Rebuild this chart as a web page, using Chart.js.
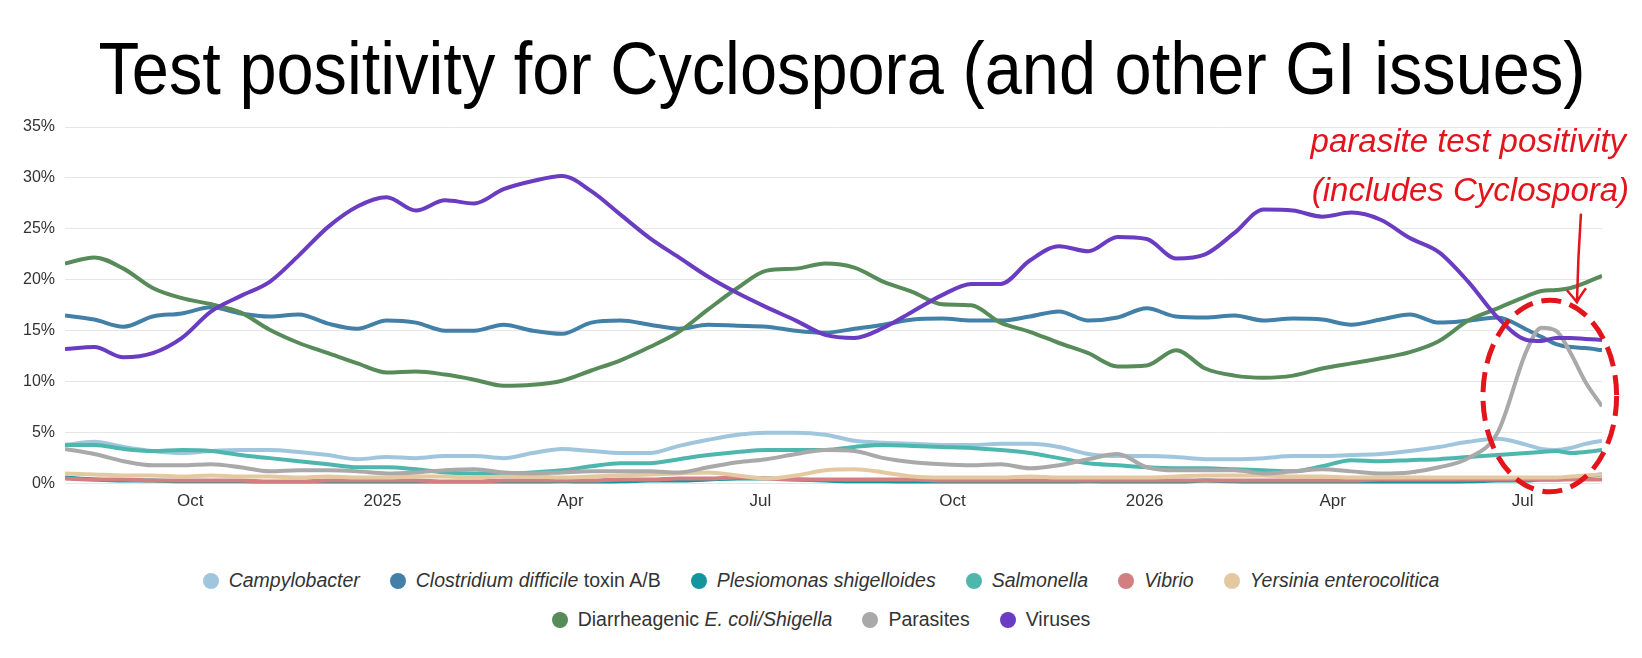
<!DOCTYPE html>
<html lang="en">
  <head>
    <title>Test positivity for Cyclospora</title>
    <meta charset="UTF-8" />
    <script src="https://cdn.jsdelivr.net/npm/chart.js@4.4.1/dist/chart.umd.min.js"></script>
    <style>
      body { margin: 0; background: #fff; font-family: 'Liberation Sans', Arial, sans-serif; }
      #page { position: relative; width: 1642px; height: 658px; overflow: hidden; }
      #title {
        position: absolute; top: 31px; left: 842px; white-space: nowrap;
        font-family: 'Liberation Sans Narrow', 'Liberation Sans', sans-serif;
        font-size: 75px; line-height: 1; color: #000; transform-origin: center top;
      }
      #wrap { position: absolute; left: 0; top: 0; width: 1642px; height: 529px; }
      .note { position: absolute; color: #e3141b; font-size: 33px; font-style: italic; white-space: nowrap; transform: translate(-50%, -50%); }
      #legend { position: absolute; left: 0; top: 561px; width: 1642px; color: #333; font-size: 19.5px; }
      .row { display: flex; justify-content: center; height: 39px; align-items: center; margin-left: 0px; }
      .item { display: flex; align-items: center; margin: 0 15px; }
      .dot { width: 16px; height: 16px; border-radius: 50%; margin-right: 10px; }
    </style>
  </head>

  <body>
    <div id="page">
      <div id="title">Test positivity for Cyclospora (and other GI issues)</div>
      <div id="wrap"><canvas id="chart"></canvas></div>
      <div id="note1" class="note">parasite test positivity</div>
      <div id="note2" class="note">(includes Cyclospora)</div>
      <div id="legend"></div>
    </div>

    <script>
      // days since 1 Jan 2025
      const days = [
        -152, -138, -124, -110, -96, -82, -68, -54,
        -40, -26, -12, 2, 16, 30, 44, 58,
        72, 86, 100, 114, 128, 142, 156, 170,
        184, 198, 212, 226, 240, 254, 268, 282,
        296, 310, 324, 338, 352, 366, 380, 394,
        408, 422, 436, 450, 464, 478, 492, 506,
        520, 534, 548, 555, 562, 569, 576, 584,
      ]

      const tickDays = [-92, 0, 90, 181, 273, 365, 455, 546]
      const tickLabels = ['Oct', '2025', 'Apr', 'Jul', 'Oct', '2026', 'Apr', 'Jul']

      const campylobacter = [
        3.8, 4.1, 3.6, 3.2, 3.0, 3.2, 3.3, 3.3,
        3.1, 2.8, 2.4, 2.6, 2.5, 2.7, 2.7, 2.5,
        3.0, 3.4, 3.2, 3.0, 3.0, 3.7, 4.3, 4.8,
        5.0, 5.0, 4.8, 4.2, 4.0, 3.9, 3.8, 3.8,
        3.9, 3.9, 3.6, 2.9, 2.7, 2.7, 2.6, 2.4,
        2.4, 2.5, 2.7, 2.7, 2.8, 2.9, 3.2, 3.6,
        4.1, 4.4, 3.8, 3.4, 3.3, 3.5, 3.9, 4.2,
      ]
      const clostridium = [
        16.5, 16.1, 15.4, 16.4, 16.7, 17.3, 16.7, 16.4,
        16.6, 15.7, 15.2, 16.0, 15.8, 15.0, 15.0, 15.6,
        15.0, 14.7, 15.8, 16.0, 15.6, 15.2, 15.6, 15.5,
        15.4, 15.0, 14.8, 15.2, 15.6, 16.1, 16.2, 16.0,
        16.0, 16.4, 16.9, 16.0, 16.3, 17.2, 16.4, 16.3,
        16.5, 16.0, 16.2, 16.1, 15.6, 16.1, 16.6, 15.8,
        16.0, 16.3, 15.1, 14.4, 13.7, 13.4, 13.3, 13.1,
      ]
      const plesiomonas = [
        0.6, 0.4, 0.3, 0.3, 0.2, 0.2, 0.2, 0.1,
        0.1, 0.1, 0.1, 0.1, 0.1, 0.1, 0.1, 0.1,
        0.1, 0.2, 0.1, 0.2, 0.3, 0.3, 0.4, 0.5,
        0.5, 0.4, 0.3, 0.2, 0.2, 0.1, 0.1, 0.1,
        0.1, 0.1, 0.1, 0.2, 0.1, 0.1, 0.1, 0.3,
        0.2, 0.1, 0.1, 0.1, 0.1, 0.1, 0.1, 0.1,
        0.2, 0.3, 0.3, 0.4, 0.4, 0.5, 0.7, 0.9,
      ]
      const salmonella = [
        3.8, 3.8, 3.4, 3.2, 3.3, 3.2, 2.8, 2.5,
        2.2, 1.9, 1.6, 1.6, 1.4, 1.1, 1.0, 1.0,
        1.1, 1.3, 1.7, 2.0, 2.0, 2.4, 2.8, 3.1,
        3.3, 3.3, 3.3, 3.6, 3.8, 3.7, 3.6, 3.5,
        3.3, 3.0, 2.5, 2.0, 1.8, 1.6, 1.5, 1.5,
        1.4, 1.3, 1.2, 1.7, 2.3, 2.2, 2.3, 2.4,
        2.6, 2.8, 3.0, 3.1, 3.2, 3.0, 3.1, 3.3,
      ]
      const vibrio = [
        0.5, 0.4, 0.4, 0.3, 0.3, 0.3, 0.3, 0.2,
        0.2, 0.3, 0.3, 0.3, 0.3, 0.2, 0.2, 0.3,
        0.3, 0.3, 0.3, 0.4, 0.4, 0.5, 0.5, 0.6,
        0.5, 0.4, 0.4, 0.4, 0.4, 0.4, 0.3, 0.3,
        0.3, 0.3, 0.3, 0.3, 0.3, 0.3, 0.3, 0.3,
        0.3, 0.3, 0.3, 0.3, 0.3, 0.4, 0.4, 0.4,
        0.4, 0.4, 0.4, 0.4, 0.4, 0.4, 0.4, 0.4,
      ]
      const yersinia = [
        1.0, 0.9, 0.8, 0.8, 0.7, 0.8, 0.7, 0.7,
        0.6, 0.7, 0.6, 0.6, 0.7, 0.7, 0.6, 0.7,
        0.7, 0.6, 0.7, 0.8, 0.9, 1.0, 1.1, 0.8,
        0.5, 0.8, 1.3, 1.4, 1.1, 0.7, 0.6, 0.6,
        0.6, 0.7, 0.6, 0.6, 0.6, 0.6, 0.7, 0.8,
        0.8, 0.8, 0.7, 0.7, 0.6, 0.6, 0.6, 0.6,
        0.6, 0.6, 0.6, 0.6, 0.6, 0.7, 0.8, 0.9,
      ]
      const ecoliShigella = [
        21.6, 22.2, 21.1, 19.2, 18.2, 17.6, 16.8, 15.1,
        13.8, 12.8, 11.8, 10.9, 11.0, 10.7, 10.2, 9.6,
        9.7, 10.1, 11.1, 12.1, 13.4, 14.9, 17.1, 19.2,
        20.9, 21.1, 21.6, 21.2, 19.8, 18.8, 17.6, 17.5,
        15.8, 14.9, 13.8, 12.8, 11.5, 11.6, 13.1, 11.3,
        10.6, 10.4, 10.6, 11.3, 11.8, 12.3, 12.9, 14.0,
        16.0, 17.2, 18.4, 18.9, 19.0, 19.2, 19.7, 20.4,
      ]
      const parasites = [
        3.4, 2.9, 2.2, 1.8, 1.8, 1.9, 1.6, 1.2,
        1.3, 1.3, 1.2, 1.0, 1.1, 1.3, 1.4, 1.1,
        1.0, 1.1, 1.2, 1.2, 1.2, 1.1, 1.6, 2.1,
        2.4, 2.9, 3.3, 3.2, 2.5, 2.1, 1.9, 1.8,
        1.9, 1.5, 1.8, 2.4, 2.9, 1.6, 1.3, 1.3,
        1.3, 1.0, 1.2, 1.4, 1.2, 1.0, 1.1, 1.6,
        2.5, 5.0, 13.1, 15.3, 15.0, 12.8, 10.0, 7.6,
      ]
      const viruses = [
        13.2, 13.4, 12.4, 12.8, 14.3, 16.9, 18.4, 19.8,
        22.4, 25.2, 27.2, 28.1, 26.8, 27.8, 27.5, 28.9,
        29.7, 30.2, 28.7, 26.4, 24.1, 22.2, 20.3, 18.7,
        17.3, 16.0, 14.6, 14.3, 15.3, 16.9, 18.5, 19.6,
        19.6, 21.9, 23.3, 22.8, 24.2, 24.0, 22.1, 22.5,
        24.6, 26.9, 26.8, 26.2, 26.6, 25.9, 24.1, 22.7,
        19.8, 16.3, 14.1, 14.0, 14.3, 14.3, 14.2, 14.1,
      ]

      const seriesNames = [
        'Campylobacter', 'Clostridium difficile toxin A/B', 'Plesiomonas shigelloides',
        'Salmonella', 'Vibrio', 'Yersinia enterocolitica',
        'Diarrheagenic E. coli/Shigella', 'Parasites', 'Viruses',
      ]
      // italic part of each legend label
      const italicParts = [
        'Campylobacter', 'Clostridium difficile', 'Plesiomonas shigelloides',
        'Salmonella', 'Vibrio', 'Yersinia enterocolitica',
        'E. coli/Shigella', '', '',
      ]
      const seriesValues = [
        campylobacter, clostridium, plesiomonas, salmonella, vibrio, yersinia,
        ecoliShigella, parasites, viruses,
      ]
      const seriesColors = [
        '#a0c6de', '#4280a7', '#13959e', '#4db6ad', '#d17f80', '#e4c9a0',
        '#588b5a', '#a9a9a9', '#6a3cc2',
      ]

      const datasets = seriesValues.map((values, i) => ({
        label: seriesNames[i],
        data: values.map((v, j) => ({ x: days[j], y: v })),
        borderColor: seriesColors[i],
        backgroundColor: seriesColors[i],
        borderWidth: 4,
        pointRadius: 0,
        cubicInterpolationMode: 'monotone',
        order: seriesValues.length - i,
      }))

      // red dashed ellipse + arrow around the parasite spike
      const noteMarks = {
        id: 'noteMarks',
        afterDatasetsDraw(chart) {
          const { ctx, scales } = chart
          const x = scales.x
          const y = scales.y
          const cx = x.getPixelForValue(559)
          const cy = y.getPixelForValue(8.6)
          const rx = x.getPixelForValue(591) - cx
          const ry = cy - y.getPixelForValue(18.0)
          ctx.save()
          ctx.strokeStyle = '#e3141b'
          ctx.lineWidth = 5
          ctx.setLineDash([20, 9])
          ctx.beginPath()
          ctx.ellipse(cx, cy, rx, ry, 0, 0, Math.PI * 2)
          ctx.stroke()

          const ax = x.getPixelForValue(572)
          const top = y.getPixelForValue(26.5)
          const tip = y.getPixelForValue(17.8)
          ctx.setLineDash([])
          ctx.lineWidth = 2.5
          ctx.beginPath()
          ctx.moveTo(ax + 4, top)
          ctx.quadraticCurveTo(ax + 1, (top + tip) / 2, ax, tip)
          ctx.moveTo(ax - 10, tip - 12)
          ctx.quadraticCurveTo(ax - 3, tip - 4, ax, tip)
          ctx.quadraticCurveTo(ax + 3, tip - 6, ax + 9, tip - 14)
          ctx.stroke()
          ctx.restore()

          const n1 = document.getElementById('note1')
          const n2 = document.getElementById('note2')
          n1.style.left = x.getPixelForValue(520) + 'px'
          n1.style.top = y.getPixelForValue(33.6) + 'px'
          n2.style.left = x.getPixelForValue(521) + 'px'
          n2.style.top = y.getPixelForValue(28.8) + 'px'
        },
      }

      const chart = new Chart(document.getElementById('chart'), {
        type: 'line',
        data: { datasets: datasets },
        options: {
          responsive: true,
          maintainAspectRatio: false,
          animation: false,
          layout: { padding: { top: 127, left: 13, right: 40, bottom: 9 } },
          scales: {
            x: {
              type: 'linear',
              min: -152,
              max: 584,
              afterBuildTicks: (scale) => {
                scale.ticks = tickDays.map((d) => ({ value: d }))
              },
              ticks: {
                color: '#333',
                padding: 8,
                maxRotation: 0,
                autoSkip: false,
                font: { family: 'Liberation Sans', size: 17 },
                callback: (value) => tickLabels[tickDays.indexOf(value)],
              },
              grid: { display: false, drawTicks: false },
              border: { display: false },
            },
            y: {
              min: 0,
              max: 35,
              ticks: {
                stepSize: 5,
                color: '#333',
                padding: 10,
                font: { family: 'Liberation Sans', size: 16 },
                callback: (value) => value + '%',
              },
              grid: { color: '#e6e6e6', drawTicks: false },
              border: { display: false },
            },
          },
          plugins: {
            legend: { display: false },
            tooltip: { enabled: false },
          },
        },
        plugins: [noteMarks],
      })

      // legend with italic species names
      const legendRows = [[0, 1, 2, 3, 4, 5], [6, 7, 8]]
      const legend = document.getElementById('legend')
      legendRows.forEach((row) => {
        const rowDiv = document.createElement('div')
        rowDiv.className = 'row'
        row.forEach((i) => {
          const item = document.createElement('div')
          item.className = 'item'
          const dot = document.createElement('span')
          dot.className = 'dot'
          dot.style.background = seriesColors[i]
          item.appendChild(dot)
          const name = seriesNames[i]
          const it = italicParts[i]
          const text = document.createElement('span')
          if (it) {
            const k = name.indexOf(it)
            if (k > 0) text.appendChild(document.createTextNode(name.slice(0, k)))
            const em = document.createElement('i')
            em.textContent = it
            text.appendChild(em)
            if (k + it.length < name.length) text.appendChild(document.createTextNode(name.slice(k + it.length)))
          } else {
            text.textContent = name
          }
          item.appendChild(text)
          rowDiv.appendChild(item)
        })
        legend.appendChild(rowDiv)
      })

      // stretch the title to the width it spans in the picture
      const title = document.getElementById('title')
      const w = title.getBoundingClientRect().width
      title.style.transform = 'translateX(-50%) scaleX(' + (1487 / w) + ')'
    </script>
  </body>
</html>
